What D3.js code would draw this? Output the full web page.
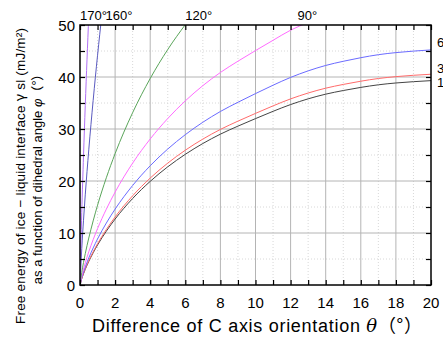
<!DOCTYPE html>
<html lang="en">
<head>
<meta charset="UTF-8"/>
<title>Free energy of ice - liquid interface</title>
<script src="https://d3js.org/d3.v7.min.js"></script>
<style>
  body { margin: 0; background: #fff; }
  text { font-family: "Liberation Sans", Arial, "Noto Sans CJK JP", sans-serif; }
</style>
</head>
<body>
<div id="chart"></div>
<script>
// misorientation of the C axis (deg)
var theta = [0, 0.1, 0.2, 0.3, 0.5, 0.75, 1, 1.5, 2, 3, 4, 5, 6, 7, 8, 9, 10,
             11, 12, 13, 14, 15, 16, 17, 18, 19, 20];

// gamma sl (mJ/m2), one array per dihedral angle
var gamma10  = [0, 1.22, 2.17, 3.02, 4.53, 6.19, 7.70, 10.35, 12.68, 16.64, 19.93, 22.73, 25.13,
                27.21, 29.01, 30.55, 32.0, 33.4, 34.7, 35.8, 36.7, 37.4, 38.0, 38.5, 38.85, 39.1, 39.3];
var gamma30  = [0, 1.26, 2.24, 3.11, 4.67, 6.38, 7.94, 10.67, 13.08, 17.16, 20.56, 23.44, 25.92,
                28.06, 29.92, 31.51, 33.0, 34.45, 35.79, 36.92, 37.85, 38.57, 39.19, 39.71, 40.07, 40.33, 40.53];
var gamma60  = [0, 1.40, 2.50, 3.47, 5.21, 7.12, 8.86, 11.91, 14.59, 19.14, 22.93, 26.15, 28.91,
                31.30, 33.37, 35.14, 36.81, 38.42, 39.92, 41.18, 42.22, 43.02, 43.71, 44.29, 44.69, 44.98, 45.21];
var gamma90  = [0, 1.72, 3.06, 4.25, 6.38, 8.72, 10.85, 14.58, 17.86, 23.44, 28.08, 32.02, 35.41,
                38.34, 40.87, 43.04, 45.08, 47.06, 49.0, 50.5];
var gamma120 = [0, 2.43, 4.32, 6.02, 9.03, 12.33, 15.34, 20.62, 25.26, 33.15, 39.71, 45.29, 50.07];
var gamma160 = [0, 7.00, 12.45, 17.33, 25.99, 35.51, 44.17, 59.38];
var gamma170 = [0, 13.94, 24.80, 34.52, 51.78];

var xTicks = [0, 2, 4, 6, 8, 10, 12, 14, 16, 18, 20];
var yTicks = [0, 10, 20, 30, 40, 50];

// top labels: [text, theta where the label starts]
var topLabels = [["170°", 0.0], ["160°", 1.45], ["120°", 6.0], ["90°", 12.4]];
// right labels: [text, value at theta = 20]
var rightLabels = [["60°", 46.5], ["30°", 41.5], ["10°", 38.8]];

var series = [
  { v: gamma10,  color: "#444444" },
  { v: gamma30,  color: "#ff6b6b" },
  { v: gamma60,  color: "#6b6bff" },
  { v: gamma90,  color: "#ff6bff" },
  { v: gamma120, color: "#5aa55a" },
  { v: gamma160, color: "#5a5ac0" },
  { v: gamma170, color: "#b070f5" }
];

var w = 443, h = 337;
var pLeft = 80, pRight = 431, pTop = 25, pBottom = 285;

var svg = d3.select("#chart").append("svg")
  .attr("width", w).attr("height", h);

var x = d3.scaleLinear().domain([0, 20]).range([pLeft, pRight]);
var y = d3.scaleLinear().domain([0, 50]).range([pBottom, pTop]);

svg.append("clipPath").attr("id", "plot")
  .append("rect").attr("x", pLeft).attr("y", pTop)
  .attr("width", pRight - pLeft).attr("height", pBottom - pTop);

// minor grid (dotted)
svg.selectAll(".gxm").data(d3.range(1, 20, 2)).enter().append("line")
  .attr("x1", d => x(d)).attr("x2", d => x(d)).attr("y1", pTop).attr("y2", pBottom)
  .attr("stroke", "#d8d8d8").attr("stroke-dasharray", "1,2");
svg.selectAll(".gym").data(d3.range(5, 50, 10)).enter().append("line")
  .attr("y1", d => y(d)).attr("y2", d => y(d)).attr("x1", pLeft).attr("x2", pRight)
  .attr("stroke", "#d8d8d8").attr("stroke-dasharray", "1,2");

// major grid
svg.selectAll(".gx").data(xTicks.slice(1, -1)).enter().append("line")
  .attr("x1", d => x(d)).attr("x2", d => x(d)).attr("y1", pTop).attr("y2", pBottom)
  .attr("stroke", "#b4b4b4");
svg.selectAll(".gy").data(yTicks.slice(1, -1)).enter().append("line")
  .attr("y1", d => y(d)).attr("y2", d => y(d)).attr("x1", pLeft).attr("x2", pRight)
  .attr("stroke", "#b4b4b4");

// curves
var line = d3.line()
  .x((d, i) => x(theta[i]))
  .y(d => y(d))
  .curve(d3.curveMonotoneX);

svg.append("g").attr("clip-path", "url(#plot)")
  .selectAll("path").data(series).enter().append("path")
  .attr("d", d => line(d.v))
  .attr("fill", "none")
  .attr("stroke", d => d.color)
  .attr("stroke-width", 1);

// axes with inward ticks
var gb = svg.append("g").attr("transform", "translate(0," + pBottom + ")")
  .call(d3.axisBottom(x).tickValues(d3.range(0, 21, 1)).tickSizeInner(-5).tickSizeOuter(0).tickFormat(""));
var gt = svg.append("g").attr("transform", "translate(0," + pTop + ")")
  .call(d3.axisTop(x).tickValues(d3.range(0, 21, 1)).tickSizeInner(-5).tickSizeOuter(0).tickFormat(""));
var gl = svg.append("g").attr("transform", "translate(" + pLeft + ",0)")
  .call(d3.axisLeft(y).tickValues(d3.range(0, 51, 5)).tickSizeInner(-5).tickSizeOuter(0).tickFormat(""));
var gr = svg.append("g").attr("transform", "translate(" + pRight + ",0)")
  .call(d3.axisRight(y).tickValues(d3.range(0, 51, 5)).tickSizeInner(-5).tickSizeOuter(0).tickFormat(""));
[gb, gt, gl, gr].forEach(function(g) {
  g.select(".domain").remove();
  g.selectAll("line").attr("stroke", "#000").attr("stroke-width", 1.2);
});

svg.append("rect").attr("x", pLeft).attr("y", pTop)
  .attr("width", pRight - pLeft).attr("height", pBottom - pTop)
  .attr("fill", "none").attr("stroke", "#000").attr("stroke-width", 1.5);

// tick labels
svg.selectAll(".xl").data(xTicks).enter().append("text")
  .attr("x", d => x(d)).attr("y", pBottom + 23)
  .attr("text-anchor", "middle").attr("font-size", 15).text(d => d);
svg.selectAll(".yl").data(yTicks).enter().append("text")
  .attr("x", pLeft - 5).attr("y", d => y(d) + 5.5)
  .attr("text-anchor", "end").attr("font-size", 15).text(d => d);

// curve labels
svg.selectAll(".tl").data(topLabels).enter().append("text")
  .attr("x", d => x(d[1])).attr("y", pTop - 5)
  .attr("font-size", 13).text(d => d[0]);
svg.selectAll(".rl").data(rightLabels).enter().append("text")
  .attr("x", pRight + 6).attr("y", d => y(d[1]) + 4)
  .attr("font-size", 13).text(d => d[0]);

// axis titles
var xt = svg.append("text").attr("x", 92).attr("y", 332).attr("font-size", 18)
  .attr("textLength", 330).attr("lengthAdjust", "spacing");
xt.append("tspan").text("Difference of C axis orientation ");
xt.append("tspan").attr("font-style", "italic").attr("font-family", "DejaVu Serif").text("θ");
xt.append("tspan").attr("font-family", "Noto Sans CJK JP").text("（°）");

var yt = svg.append("g").attr("transform", "translate(0,176) rotate(-90)");
var y1 = yt.append("text").attr("x", -148).attr("y", 25).attr("font-size", 13.5)
  .attr("textLength", 296).attr("lengthAdjust", "spacing");
y1.append("tspan").text("Free energy of ice − liquid interface ");
y1.append("tspan").attr("font-family", "Noto Sans CJK JP").text("γ");
y1.append("tspan").text(" sl (mJ/m²)");
var y2 = yt.append("text").attr("x", 0).attr("y", 42).attr("font-size", 13)
  .attr("text-anchor", "middle");
y2.append("tspan").text("as a function of dihedral angle ");
y2.append("tspan").attr("font-style", "italic").text("φ");
y2.append("tspan").attr("font-family", "Noto Sans CJK JP").text("（°）");
</script>
</body>
</html>
